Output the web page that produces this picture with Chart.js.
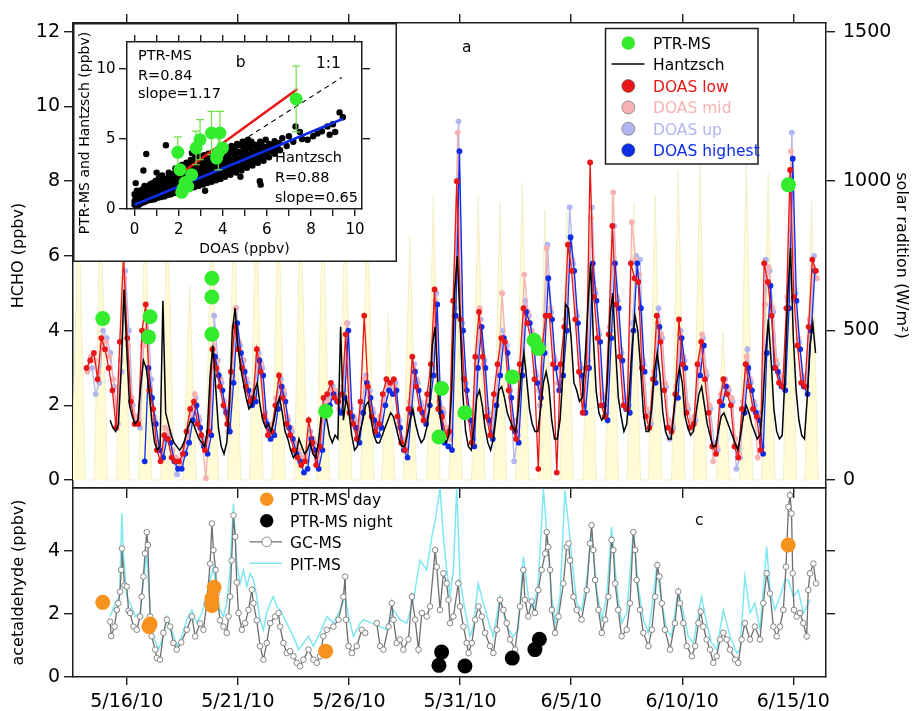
<!DOCTYPE html>
<html>
<head>
<meta charset="utf-8">
<script src="https://cdn.jsdelivr.net/npm/chart.js@4.4.1/dist/chart.umd.min.js"></script>
<style>
html, body { margin: 0; padding: 0; background: #fff; }
#wrap { position: relative; width: 919px; height: 711px; overflow: hidden; background: #fff; }
canvas { position: absolute; }
#cBottom { left: 0; top: 466px; z-index: 1; }
#cTop { left: 0; top: 0; z-index: 2; }
#cInset { left: 73px; top: 23px; z-index: 3; }
</style>
</head>
<body>
<div id="wrap">
<canvas id="cBottom" width="919" height="245"></canvas>
<canvas id="cTop" width="919" height="520"></canvas>
<canvas id="cInset" width="324" height="239"></canvas>
</div>
<script>
// time axis = day of May 2010 (UTC), 32 = June 1
var dateTicks = [16, 21, 26, 31, 36, 41, 46];
var dateLabels = ['5/16/10', '5/21/10', '5/26/10', '5/31/10', '6/5/10', '6/10/10', '6/15/10'];

// solar radiation: midday time and peak (W/m2) for each day
var solarNoon = [13.83, 14.83, 15.83, 16.83, 17.83, 18.83, 19.83, 20.83, 21.83, 22.83, 23.83, 24.83, 25.83, 26.83, 27.77, 28.74,
  29.8, 30.8, 31.82, 32.8, 33.8, 34.82, 35.8, 36.83, 37.83, 38.82, 39.78, 40.82, 41.8, 42.83, 43.88, 44.87, 45.85, 46.82];
var solarPeak = [950, 950, 950, 950, 950, 650, 950, 950, 950, 950, 950, 950, 950, 950, 557, 815,
  950, 950, 948, 931, 992, 904, 900, 950, 950, 925, 954, 1037, 1054, 500, 1054, 1025, 950, 937];

// Hantzsch HCHO, every 3 h from 5/15 06:00
var hantzschStart = 15.25, hantzschStep = 0.125;
var hantzschValues = [
  1.6, 1.4, 1.3, 1.5, 3.0, 5.1,
  3.5, 2.0, 1.7, 1.5, 1.6, 2.5, 3.2, 3.0,
  2.4, 1.6, 1.0, 0.8, 0.9, 4.8, 1.8, 1.5,
  1.2, 1.0, 0.9, 0.8, 0.9, 1.1, 1.4, 1.6,
  1.5, 1.3, 1.1, 1.0, 0.9, 1.3, 2.8, 3.6,
  2.5, 1.4, 0.9, 0.7, 1.0, 2.0, 4.0, 4.6,
  3.6, 3.0, 2.6, 2.2, 1.9, 2.0, 2.4, 2.6,
  2.0, 1.6, 1.4, 1.5, 1.3, 1.6, 2.0, 2.2,
  1.8, 1.3, 1.1, 0.8, 0.6, 0.7, 1.1, 0.9,
  0.7, 0.8, 1.0, 0.7, 0.6, 1.0, 1.7, 1.9,
  1.6, 1.2, 1.0, 1.2, 1.1, 4.1, 1.6, 2.2,
  1.8, 1.2, 0.8, 0.9, 1.3, 1.6, 2.0, 2.1,
  1.6, 1.2, 1.0, 1.0, 1.2, 1.4, 1.6, 1.8,
  1.7, 1.4, 1.1, 0.9, 0.9, 1.2, 1.6, 1.9,
  1.5, 1.2, 1.0, 1.1, 1.4, 1.9, 3.6, 4.1,
  2.6, 1.6, 1.1, 1.0, 1.2, 2.4, 5.0, 6.0,
  4.3, 2.3, 1.3, 0.9, 0.8, 1.4, 2.2, 2.4,
  2.0, 1.4, 1.0, 0.8, 1.1, 1.7, 2.4, 2.5,
  2.2, 1.8, 1.6, 1.4, 1.3, 1.9, 2.8, 3.4,
  2.7, 1.9, 1.5, 1.3, 1.3, 1.9, 2.6, 2.9,
  2.5, 1.6, 1.1, 1.1, 1.6, 2.8, 4.7, 4.6,
  3.8, 2.6, 2.4, 2.1, 2.2, 3.2, 4.6, 5.8,
  3.8, 2.4, 1.8, 1.6, 1.7, 2.6, 4.4, 5.0,
  3.5, 2.2, 1.7, 1.3, 1.5, 2.4, 3.6, 4.4,
  4.0, 3.0, 1.8, 1.3, 1.3, 1.9, 2.9, 3.4,
  2.8, 1.8, 1.3, 1.1, 1.1, 1.8, 2.6, 3.0,
  2.6, 1.7, 1.4, 1.2, 1.3, 1.8, 2.3, 2.5,
  2.0, 1.5, 1.2, 0.9, 0.9, 1.3, 1.7, 1.8,
  1.6, 1.4, 1.2, 1.0, 0.8, 1.2, 1.7, 2.0,
  1.8, 1.5, 1.3, 1.1, 1.2, 2.0, 3.4, 4.3,
  3.2, 1.9, 1.3, 1.1, 1.2, 2.8, 5.0, 6.2,
  3.8, 2.4, 1.6, 1.2, 1.1, 2.2, 3.6, 4.2,
  3.4
];

// DOAS HCHO, six values per day from 5/14 (each height has its own scan offset)
var doasFirstDay = 14;
var doasLow = [
  null, 3.0, 3.2, 3.4, 2.7, 3.8,   3.5, 3.0, 2.4, 1.4, 3.7, 6.0,   3.8, 2.1, 1.5, 1.5, 4.0, 4.7,
  2.4, 1.9, 0.8, 0.5, 1.2, 1.1,   0.6, 0.5, 0.5, 0.7, 1.3, 1.9,   2.1, 1.5, 1.2, 0.8, 1.3, 3.5,
  3.0, 2.5, 2.0, 1.5, 2.9, 4.1,   3.5, 3.0, 2.5, 2.1, 2.2, 3.5,   2.9, 1.7, 1.2, 1.3, 2.0, 2.8,
  2.2, 1.5, 1.2, 0.8, 0.6, 0.4,   0.5, 1.6, 1.0, 0.4, 0.9, 2.2,   2.3, 2.6, 2.2, 2.1, 2.3, 3.9,
  1.8, 1.5, 1.1, 2.1, 4.4, 2.5,   1.7, 1.3, 1.5, 2.3, 2.7, 2.6,   2.7, 1.7, 1.0, 0.8, 1.9, 3.3,
  2.5, 1.9, 1.6, 2.3, 3.1, 5.1,   1.9, 1.7, 1.2, 1.3, 4.8, 8.0,   4.3, 2.7, 1.8, 1.0, 3.3, 4.5,
  3.3, 1.7, 1.2, 2.3, 3.1, 3.8,   3.7, 2.4, 1.4, 1.1, 3.1, 4.6,   4.2, 3.8, 2.7, 0.3, 3.5, 4.4,
  4.4, 3.1, 0.2, 3.1, 4.1, 6.3,   5.6, 4.3, 2.9, 1.8, 3.0, 8.5,   4.9, 3.8, 2.0, 1.7, 3.9, 6.8,
  4.7, 3.3, 2.0, 1.9, 5.8, 5.4,   5.3, 3.0, 1.7, 1.4, 2.7, 4.4,   3.7, 2.4, 1.4, 1.3, 2.3, 4.3,
  3.1, 1.8, 1.4, 1.5, 3.1, 3.7,   2.7, 1.8, 0.9, 0.7, 2.1, 2.7,   2.3, 2.0, 0.9, 0.6, 1.9, 3.1,
  2.5, 1.9, 1.7, 0.8, 5.8, 5.3,   4.4, 3.0, 2.6, 2.5, 4.6, 8.3,   4.9, 3.6, 2.6, 2.5, 4.1, 5.9,
  5.6
];
var doasMid = [
  null, 2.9, 3.3, 3.2, 2.9, 3.6,   3.7, 3.3, 2.7, 1.5, 3.2, 5.4,   3.6, 2.2, 1.7, 1.6, 3.6, 4.3,
  2.5, 1.7, 1.0, 0.8, 1.4, 1.3,   0.8, 0.6, 0.4, 0.9, 1.1, 1.7,   2.3, 1.7, 1.0, 0.05, 1.5, 3.9,
  3.2, 2.7, 2.1, 1.3, 2.7, 4.6,   3.7, 3.2, 2.7, 2.3, 2.4, 3.3,   3.1, 1.8, 1.4, 1.5, 2.2, 2.6,
  2.4, 1.7, 1.4, 1.0, 0.8, 0.6,   0.6, 1.2, 1.1, 0.6, 1.1, 2.0,   2.1, 2.4, 2.4, 1.9, 2.5, 4.2,
  2.0, 1.7, 1.3, 1.9, 2.7, 2.3,   1.9, 1.5, 1.7, 2.1, 2.5, 2.4,   2.5, 1.5, 1.1, 1.0, 2.1, 3.0,
  2.7, 2.1, 1.8, 2.1, 2.9, 4.8,   2.1, 1.9, 1.4, 1.1, 4.4, 9.3,   4.1, 2.5, 1.9, 1.2, 3.1, 4.6,
  3.1, 1.9, 1.4, 2.1, 2.9, 5.0,   3.5, 2.5, 1.6, 1.3, 2.9, 5.5,   4.5, 4.0, 2.9, 2.4, 3.7, 6.2,
  4.6, 3.3, 2.6, 2.9, 4.3, 6.3,   5.9, 4.5, 3.1, 2.1, 3.3, 7.0,   5.1, 4.0, 2.3, 1.9, 4.1, 7.7,
  4.9, 3.5, 2.2, 2.1, 6.9, 5.9,   5.5, 3.2, 1.9, 1.6, 2.9, 4.2,   3.9, 2.6, 1.6, 1.5, 2.5, 3.9,
  3.3, 2.0, 1.6, 1.7, 2.9, 3.9,   2.9, 2.0, 0.5, 0.9, 2.3, 2.6,   2.5, 2.2, 1.1, 0.7, 2.1, 3.3,
  2.7, 2.1, 0.6, 1.0, 4.7, 5.7,   4.6, 3.2, 2.8, 2.7, 4.9, 8.8,   5.1, 3.8, 2.8, 2.6, 4.3, 5.7,
  5.4
];
var doasUp = [
  null, null, 3.0, 2.3, 2.6, 4.0,   3.8, 3.4, 2.5, 1.5, 2.9, 5.6,   4.0, 2.0, 1.6, 1.4, 3.7, 4.4,
  2.7, 1.6, 0.9, 0.7, 1.2, 1.2,   0.6, 0.15, 0.4, 0.8, 1.2, 1.8,  2.2, 1.6, 1.1, 0.9, 1.4, 4.4,
  3.2, 2.6, 1.9, 1.4, 2.8, 4.6,   3.6, 3.2, 2.6, 2.2, 2.3, 3.4,   3.0, 1.6, 1.3, 1.3, 2.1, 2.7,
  2.3, 1.6, 1.3, 0.9, 0.7, 0.5,   0.5, 1.3, 1.0, 0.5, 1.0, 2.1,   2.2, 2.5, 2.3, 2.0, 2.4, 4.2,
  1.9, 1.6, 1.2, 2.0, 2.8, 2.4,   1.8, 1.4, 1.6, 2.2, 2.6, 2.5,   2.6, 1.6, 1.0, 0.9, 2.0, 3.1,
  2.6, 2.0, 1.7, 2.2, 3.0, 5.0,   2.0, 1.8, 1.3, 1.2, 4.6, 9.6,   4.2, 2.6, 1.8, 1.1, 3.2, 4.3,
  3.2, 1.8, 1.3, 2.2, 3.0, 4.0,   3.6, 2.4, 0.5, 1.2, 3.0, 4.8,   4.4, 3.9, 2.8, 2.0, 3.6, 6.3,
  4.5, 3.2, 2.4, 3.0, 4.2, 7.3,   5.8, 4.4, 3.0, 2.0, 3.2, 7.3,   5.0, 3.9, 2.2, 1.8, 4.0, 6.8,
  4.8, 3.4, 2.1, 2.0, 4.2, 6.0,   5.9, 3.1, 1.8, 1.5, 2.8, 4.6,   3.8, 2.5, 1.1, 1.4, 2.4, 4.0,
  3.2, 1.9, 1.5, 1.6, 3.0, 3.8,   2.8, 1.9, 1.0, 0.8, 2.2, 2.7,   2.4, 2.1, 0.3, 0.6, 2.0, 3.5,
  2.6, 2.0, 1.8, 0.9, 5.9, 5.6,   4.5, 3.1, 2.7, 2.6, 4.8, 9.3,   5.0, 3.7, 2.7, 2.5, 4.2, 6.0,
  null
];
var doasHighest = [
  null, null, null, null, null, null,   null, null, null, null, null, null,   null, null, null, null, 0.5, 3.0,
  2.2, 1.5, 0.8, 0.6, 1.1, 1.0,   0.5, 0.3, 0.3, 0.7, 1.0, 1.6,   2.0, 1.4, 0.9, 0.7, 1.2, 3.3,
  2.8, 2.4, 1.8, 1.3, 2.6, 4.2,   3.4, 2.9, 2.4, 2.0, 2.1, 3.2,   2.8, 1.5, 1.1, 1.2, 1.9, 2.5,
  2.1, 1.4, 1.1, 0.7, 0.5, 0.2,   0.3, 1.1, 0.8, 0.3, 0.8, 1.9,   2.0, 2.3, 2.1, 1.8, 2.2, 4.0,
  1.7, 1.4, 1.0, 1.8, 2.6, 2.2,   1.6, 1.2, 1.4, 2.0, 2.4, 2.3,   2.4, 1.4, 0.8, 0.6, 1.8, 2.9,
  2.4, 1.8, 1.5, 2.0, 2.8, 4.7,   1.8, 1.0, 0.9, 0.8, 4.4, 8.8,   4.0, 2.4, 1.6, 0.9, 3.0, 4.1,
  3.0, 1.6, 1.1, 2.0, 2.8, 3.8,   3.4, 2.2, 1.3, 1.0, 2.8, 4.5,   4.2, 3.7, 2.6, 2.2, 3.4, 5.4,
  4.3, 3.0, 2.4, 2.8, 4.0, 6.5,   5.6, 4.2, 2.8, 1.8, 3.0, 5.8,   4.8, 3.7, 2.0, 1.6, 3.8, 5.8,
  4.6, 3.2, 1.9, 1.8, 4.0, 5.8,   4.6, 2.9, null, null, 2.6, 4.1,   null, null, null, null, 2.2, 3.8,
  3.0, null, null, null, 2.8, 3.6,   null, null, null, null, 2.0, 2.5,   null, null, null, null, 1.8, 3.0,
  2.4, 1.8, 1.6, 0.7, 3.4, 5.2,   3.0, 2.9, 2.5, 2.4, 4.6, 8.6,   4.8, 3.5, 2.5, 2.3, 4.0, 5.6
];

// PTR-MS HCHO (panel a)
var ptrTimes = [14.92, 16.98, 17.05, 19.83, 19.83, 19.83, 24.95, 30.05, 30.17, 31.22, 33.35, 34.33, 34.52, 45.78];
var ptrValues = [4.32, 3.83, 4.37, 5.4, 4.9, 3.9, 1.84, 1.15, 2.45, 1.8, 2.76, 3.74, 3.52, 7.9];

// inset b: Hantzsch vs DOAS scatter [DOAS, Hantzsch]
var scatterPairs = [
  [0.0,0.3],[0.0,0.55],[0.05,0.8],[0.0,1.05],[0.1,1.3],[0.1,0.4],[0.15,0.65],[0.1,0.9],[0.2,1.15],
  [0.2,0.3],[0.25,0.5],[0.3,0.75],[0.2,1.0],[0.3,1.35],[0.35,0.45],[0.4,0.65],[0.35,0.95],[0.45,1.2],
  [0.45,0.5],[0.5,0.75],[0.55,1.0],[0.5,1.45],[0.45,1.65],[0.6,0.6],[0.65,0.85],[0.6,1.1],[0.7,1.35],[0.65,1.6],
  [0.75,0.65],[0.8,0.9],[0.75,1.2],[0.85,1.5],[0.8,1.85],[0.9,0.7],[0.95,1.0],[0.9,1.3],[1.0,1.6],[0.95,2.0],
  [1.05,0.8],[1.1,1.05],[1.0,1.35],[1.15,1.75],[1.1,2.2],[1.2,0.85],[1.25,1.15],[1.2,1.5],[1.3,1.9],[1.25,2.4],
  [1.35,0.9],[1.4,1.25],[1.35,1.6],[1.45,2.05],[1.5,1.0],[1.55,1.35],[1.5,1.75],[1.6,2.2],[1.55,2.6],
  [1.65,1.05],[1.7,1.45],[1.65,1.85],[1.75,2.3],[1.8,1.15],[1.85,1.55],[1.8,2.0],[1.9,2.45],[1.85,2.9],
  [1.95,1.2],[2.0,1.65],[1.95,2.1],[2.05,2.6],[2.1,1.3],[2.15,1.75],[2.1,2.25],[2.2,2.75],[2.15,3.15],
  [2.3,1.4],[2.35,1.85],[2.3,2.35],[2.4,2.85],[2.35,3.3],[2.5,1.45],[2.55,1.95],[2.5,2.5],[2.6,3.0],[2.55,3.5],
  [2.7,1.55],[2.75,2.05],[2.7,2.6],[2.8,3.1],[2.75,3.65],[2.9,1.65],[2.95,2.15],[2.9,2.7],[3.0,3.25],[2.95,3.75],
  [3.1,1.75],[3.15,2.3],[3.1,2.85],[3.2,3.35],[3.15,3.85],[3.3,1.85],[3.35,2.4],[3.3,2.95],[3.4,3.45],[3.35,3.95],
  [3.5,1.95],[3.55,2.5],[3.5,3.05],[3.6,3.55],[3.55,4.05],[3.7,2.05],[3.75,2.6],[3.7,3.15],[3.8,3.7],[3.75,4.2],
  [3.9,2.15],[3.95,2.7],[3.9,3.25],[4.0,3.8],[3.95,4.3],[4.1,2.3],[4.15,2.85],[4.1,3.4],[4.2,3.9],[4.15,4.4],
  [4.35,2.45],[4.4,3.0],[4.35,3.5],[4.45,4.0],[4.4,4.5],[4.6,2.6],[4.65,3.1],[4.6,3.65],[4.7,4.1],[4.65,4.65],
  [4.85,2.75],[4.9,3.3],[4.85,3.8],[4.95,4.3],[4.9,4.8],[5.1,2.95],[5.15,3.45],[5.1,3.95],[5.2,4.45],[5.15,4.95],
  [5.35,3.1],[5.4,3.6],[5.35,4.1],[5.45,4.6],[5.6,3.3],[5.65,3.8],[5.6,4.3],[5.7,4.8],
  [5.85,3.45],[5.9,3.95],[5.85,4.45],[5.95,4.95],[6.1,3.7],[6.15,4.2],[6.1,4.65],[6.35,3.95],[6.4,4.4],[6.35,4.85],
  [6.6,4.2],[6.7,5.05],[6.9,4.5],[7.0,5.2],[7.2,4.8],[7.3,5.9],[7.5,5.5],[7.6,5.0],[7.85,4.95],[8.1,5.2],
  [8.3,5.4],[8.5,5.55],[8.75,5.9],[8.85,5.3],[9.0,6.05],[9.1,5.5],[9.3,6.9],[9.45,6.55],
  [0.05,1.85],[0.4,2.75],[0.53,3.93],[1.42,4.55],[5.68,1.98],[5.72,1.74],[2.6,4.0],[3.2,1.3],[1.0,2.6],[4.8,2.3],
  [0.05,0.45],[0.1,0.7],[0.05,0.95],[0.15,1.2],[0.25,0.4],[0.3,0.6],[0.25,0.85],[0.35,1.1],
  [0.45,0.6],[0.5,0.9],[0.4,1.45],[0.55,1.25],[0.65,0.7],[0.7,0.95],[0.6,1.3],[0.75,1.5],[0.7,1.75],
  [0.85,0.8],[0.9,1.15],[0.85,1.4],[0.95,1.75],[1.05,0.95],[1.0,1.2],[1.1,1.5],[1.05,1.9],[1.2,2.0],
  [1.25,1.0],[1.3,1.3],[1.25,1.7],[1.35,2.15],[1.45,1.1],[1.5,1.45],[1.45,1.85],[1.55,2.35],
  [1.65,1.25],[1.7,1.6],[1.65,2.05],[1.75,2.5],[1.85,1.35],[1.9,1.75],[1.85,2.2],[1.95,2.7],
  [2.05,1.45],[2.1,1.9],[2.05,2.35],[2.15,2.9],[2.25,1.55],[2.3,2.05],[2.25,2.55],[2.35,3.05],
  [2.45,1.7],[2.5,2.2],[2.45,2.7],[2.55,3.2],[2.65,1.8],[2.7,2.3],[2.65,2.85],[2.75,3.35],
  [2.85,1.9],[2.9,2.45],[2.85,2.95],[2.95,3.45],[3.05,2.0],[3.1,2.55],[3.05,3.1],[3.15,3.6],
  [3.25,2.1],[3.3,2.65],[3.25,3.2],[3.35,3.7],[3.45,2.2],[3.5,2.75],[3.45,3.3],[3.55,3.8],
  [3.65,2.3],[3.7,2.85],[3.65,3.4],[3.75,3.95],[3.85,2.4],[3.9,2.95],[3.85,3.5],[3.95,4.05],
  [4.05,2.55],[4.1,3.1],[4.05,3.65],[4.15,4.15],[4.25,2.65],[4.3,3.2],[4.25,3.75],[4.35,4.25],
  [4.5,2.8],[4.55,3.35],[4.5,3.9],[4.55,4.35],[4.75,2.95],[4.8,3.5],[4.75,4.05],[4.8,4.55],
  [5.0,3.1],[5.05,3.7],[5.0,4.2],[5.05,4.65],[5.25,3.3],[5.3,3.85],[5.25,4.35],[5.3,4.8],
  [5.5,3.45],[5.55,4.0],[5.5,4.5],[5.75,3.6],[5.8,4.15],[5.75,4.65],
  [6.0,3.8],[6.05,4.35],[6.25,4.1],[6.3,4.6],[6.5,4.3],[6.55,4.7]
];
// inset b: PTR-MS vs DOAS [DOAS, PTR-MS, error]
var ptrInset = [
  [1.96,4.05,1.1],[2.06,2.81,0],[2.14,1.19,0],[2.29,1.9,0],[2.41,1.62,0],[2.59,2.45,0],[2.2,1.45,0],
  [2.79,4.36,1.2],[2.97,4.95,1.43],[3.49,5.43,1.55],[3.87,5.43,1.55],[3.72,3.64,0],[3.8,4.0,1.2],[3.99,4.36,0],
  [7.33,7.86,2.35]
];
var fitPtr = [[1.96, 2.38], [7.39, 8.57]];
var fitHantzsch = [[0, 0.3], [9.46, 6.45]];
var oneToOne = [[0, 0], [9.4, 9.4]];

// acetaldehyde (panel c)
var gcms = [
  [15.25,1.76],[15.3,1.3],[15.45,1.6],[15.55,2.13],[15.62,2.34],[15.7,2.71],[15.75,3.4],[15.78,4.08],[15.9,2.9],[16.0,2.87],
  [16.08,2.1],[16.15,2.03],[16.3,1.6],[16.45,1.5],[16.6,1.92],[16.67,2.55],[16.75,3.19],[16.82,3.92],[16.9,4.6],[16.95,4.19],
  [17.05,1.92],[17.12,1.29],[17.28,0.87],[17.35,0.6],[17.5,0.55],[17.65,1.4],[17.8,1.82],[17.95,1.6],[18.1,1.08],[18.25,0.87],
  [18.45,1.1],[18.7,1.5],[18.93,1.92],[19.08,1.29],[19.3,1.7],[19.45,1.5],[19.6,2.34],[19.75,3.6],[19.83,4.87],[19.9,4.03],
  [20.0,3.4],[20.05,2.65],[20.2,1.8],[20.35,1.6],[20.5,1.4],[20.58,1.92],[20.65,2.55],[20.72,3.7],[20.8,5.13],[20.88,4.45],
  [20.95,3.0],[21.03,2.03],[21.18,1.5],[21.33,1.71],[21.48,2.13],[21.63,2.77],[21.7,2.34],[21.85,1.8],[22.0,0.98],[22.15,0.55],
  [22.3,1.08],[22.45,1.71],[22.68,1.92],[22.83,2.03],[22.9,1.6],[23.05,1.08],[23.2,0.76],[23.35,0.82],[23.5,0.66],[23.65,0.45],
  [23.8,0.34],[23.95,0.55],[24.18,0.87],[24.4,0.55],[24.55,0.45],[24.7,0.66],[24.85,1.29],[25.0,1.5],[25.3,1.6],[25.53,1.82],
  [25.75,2.55],[25.83,3.19],[25.87,1.82],[25.98,0.98],[26.13,0.76],[26.35,0.98],[26.58,1.5],[26.73,1.4],[27.0,null],[27.25,1.71],
  [27.4,0.98],[27.55,0.87],[27.78,1.6],[27.93,2.34],[28.0,1.82],[28.15,1.08],[28.3,1.19],[28.45,0.87],[28.68,1.19],[28.83,2.55],
  [28.98,1.82],[29.13,0.87],[29.28,2.03],[29.5,1.92],[29.65,2.24],[29.88,4.03],[29.95,3.5],[30.1,2.13],[30.25,3.29],[30.4,2.97],
  [30.48,2.45],[30.55,1.71],[30.7,1.92],[30.92,2.97],[31.0,2.24],[31.15,1.6],[31.3,1.08],[31.38,0.76],[31.53,1.08],[31.68,1.82],
  [31.83,2.24],[31.98,1.92],[32.13,1.4],[32.35,0.98],[32.5,0.76],[32.65,1.5],[32.8,2.45],[32.95,2.13],[33.1,1.71],[33.25,1.19],
  [33.48,0.87],[33.7,2.24],[33.85,3.4],[33.92,2.45],[34.07,1.92],[34.22,2.4],[34.37,2.03],[34.52,2.76],[34.67,3.4],[34.83,3.92],
  [34.9,4.6],[34.97,4.13],[35.05,3.4],[35.13,2.13],[35.28,1.4],[35.43,1.92],[35.65,2.97],[35.8,4.13],[35.88,4.24],[35.95,3.7],
  [36.1,2.55],[36.25,2.13],[36.47,1.82],[36.7,2.76],[36.85,4.24],[36.92,4.82],[37.0,4.03],[37.08,3.08],[37.23,2.13],[37.38,1.4],
  [37.53,1.82],[37.67,2.55],[37.82,4.35],[37.9,4.03],[37.98,2.97],[38.12,2.13],[38.27,1.29],[38.5,1.5],[38.65,2.34],[38.8,4.6],
  [38.88,4.03],[38.95,3.08],[39.1,2.13],[39.25,1.4],[39.48,0.98],[39.63,1.5],[39.78,2.55],[39.88,3.55],[39.97,3.19],[40.08,2.34],
  [40.22,1.5],[40.45,0.87],[40.67,1.71],[40.82,2.71],[40.9,2.34],[41.05,1.71],[41.2,0.98],[41.43,0.66],[41.58,0.98],[41.73,1.71],
  [41.83,2.08],[41.95,1.6],[42.1,1.19],[42.25,0.87],[42.4,0.45],[42.55,0.66],[42.7,1.19],[42.85,1.4],[43.0,1.19],[43.15,0.87],
  [43.38,0.55],[43.52,0.45],[43.67,1.19],[43.82,1.71],[44.05,1.19],[44.27,1.6],[44.5,1.19],[44.65,2.34],[44.8,3.29],[44.95,2.65],
  [45.1,1.6],[45.25,1.29],[45.4,1.6],[45.55,2.13],[45.67,3.5],[45.78,5.4],[45.85,5.77],[45.92,5.19],[45.97,3.29],[46.03,2.13],
  [46.15,1.92],[46.3,2.03],[46.45,1.71],[46.6,1.29],[46.67,2.76],[46.75,3.29],[46.9,3.6],[47.02,2.97]
];
var pitms = [
  [15.25,1.92],[15.48,2.34],[15.67,2.55],[15.78,5.19],[15.85,3.92],[16.0,2.55],[16.15,2.34],[16.38,1.92],[16.6,2.03],[16.75,3.08],
  [16.9,3.92],[17.05,2.13],[17.2,1.29],[17.43,0.87],[17.65,1.29],[17.8,1.92],[18.03,1.5],[18.25,0.98],[18.48,1.29],[18.7,1.82],
  [18.93,2.13],[19.15,1.71],[19.38,2.03],[19.6,2.55],[19.75,3.08],[19.9,3.5],[20.05,2.66],[20.2,2.13],[20.35,1.92],[20.5,2.34],
  [20.65,3.4],[20.8,5.5],[20.95,3.6],[21.1,2.97],[21.25,3.4],[21.4,2.87],[21.55,3.29],[21.7,3.08],[21.85,2.55],[22.0,1.82],
  [22.15,1.5],[22.3,2.03],[22.45,2.34],[22.6,2.55],[22.75,2.24],[22.9,2.13],[23.2,1.71],[23.5,1.29],[23.73,0.87],[23.95,1.08],
  [24.18,1.29],[24.4,0.98],[24.7,1.4],[25.0,1.92],[25.3,1.71],[25.6,2.13],[25.83,2.55],[25.98,1.92],[26.2,1.29],[26.5,1.71],
  [26.65,1.82],[27.4,1.6],[27.7,1.5],[28.0,2.13],[28.3,1.82],[28.6,1.71],[28.9,2.45],[29.2,3.71],[29.5,3.4],[29.73,4.45],
  [29.88,4.97],[30.1,6.0],[30.25,4.45],[30.4,3.4],[30.55,2.55],[30.7,3.4],[30.85,6.0],[31.0,3.08],[31.22,2.13],[31.45,1.29],
  [31.6,1.6],[31.82,2.97],[32.05,2.34],[32.35,1.6],[32.5,1.29],[32.8,2.55],[33.1,1.6],[33.4,1.29],[33.62,1.5],[33.85,3.82],
  [34.07,2.55],[34.3,2.13],[34.52,2.97],[34.75,5.98],[34.9,4.66],[35.12,2.55],[35.28,1.71],[35.5,2.55],[35.72,5.92],[35.88,4.87],
  [36.02,3.82],[36.25,2.34],[36.47,2.13],[36.7,3.08],[36.92,4.56],[37.15,2.76],[37.38,1.82],[37.6,2.55],[37.82,4.77],[38.05,2.87],
  [38.27,1.71],[38.5,2.03],[38.8,4.66],[39.02,2.87],[39.25,1.82],[39.48,1.4],[39.7,2.55],[39.85,3.5],[40.08,2.34],[40.3,1.5],
  [40.52,1.29],[40.82,2.76],[41.05,2.03],[41.27,1.29],[41.5,1.08],[41.87,2.55],[42.1,1.71],[42.32,1.08],[42.55,0.87],[42.85,2.13],
  [43.15,1.29],[43.45,0.76],[43.6,0.87],[43.82,3.19],[44.05,2.03],[44.27,2.34],[44.5,1.5],[44.8,4.13],[44.95,2.76],[45.17,2.13],
  [45.4,2.55],[45.62,3.08],[45.77,3.08],[46.0,2.55],[46.22,2.76],[46.45,2.03],[46.67,2.34],[46.75,2.45]
];
var ptrDayTimes = [14.92, 17.0, 17.05, 19.83, 19.83, 19.93, 24.95, 45.77];
var ptrDayValues = [2.37, 1.6, 1.68, 2.27, 2.5, 2.85, 0.82, 4.19];
var ptrNightTimes = [30.05, 30.17, 31.22, 33.35, 34.37, 34.57];
var ptrNightValues = [0.37, 0.79, 0.35, 0.6, 0.87, 1.2];

var XMIN = 13.58, XMAX = 47.47;
var GREEN = 'rgb(52,236,46)', RED = 'rgb(232,22,22)', PINK = 'rgb(246,178,178)';
var LBLUE = 'rgb(178,182,238)', BLUE = 'rgb(12,44,232)', ORANGE = 'rgb(246,146,30)';
var CYAN = 'rgb(126,232,240)', FRAME = '#1e1e1e', FONT = '"DejaVu Sans", sans-serif';

Chart.defaults.font.family = FONT;
Chart.defaults.color = '#000';

function gridPoints(start, step, values) {
  return values.map(function (v, i) { return {x: start + i * step, y: v}; });
}
function slotPoints(values, offset) {
  return values.map(function (v, i) {
    return {x: doasFirstDay + Math.floor(i / 6) + (i % 6) / 6 + offset, y: v};
  });
}
function zipPoints(xs, ys) { return xs.map(function (x, i) { return {x: x, y: ys[i]}; }); }
function pairPoints(pairs) { return pairs.map(function (p) { return {x: p[0], y: p[1]}; }); }

var solarPts = [];
solarNoon.forEach(function (t, i) {
  solarPts.push({x: t - 0.3, y: 0}, {x: t, y: solarPeak[i]}, {x: t + 0.3, y: 0});
});

function num(v) { return String(v); }
function dateLabel(v) { var i = dateTicks.indexOf(v); return i >= 0 ? dateLabels[i] : ''; }

// one framed axis with fixed size and fixed tick list
function edge(pos, min, max, size, tickLen, tickList, o) {
  o = o || {};
  var horiz = pos === 'top' || pos === 'bottom';
  return {
    type: 'linear', position: pos, min: min, max: max,
    afterFit: function (s) { if (horiz) { s.height = size; } else { s.width = size; } },
    afterBuildTicks: function (s) { s.ticks = tickList.map(function (v) { return {value: v}; }); },
    grid: {display: tickLen > 0, drawOnChartArea: false, tickLength: tickLen, color: FRAME, tickColor: FRAME, lineWidth: 1.4, tickWidth: 1.4},
    border: {display: true, color: FRAME, width: 1.5},
    ticks: {display: !!o.label, autoSkip: false, maxRotation: 0, padding: o.pad || 3,
      font: {size: o.size || 19}, color: '#000', callback: o.label || function () { return ''; }},
    title: o.title ? {display: true, text: o.title, color: '#000', font: {size: o.titleSize || 16}, padding: o.titlePad} : {display: false}
  };
}

function doasSet(label, values, offset, color, order) {
  return {label: label, data: slotPoints(values, offset), borderColor: color, backgroundColor: color,
    pointBackgroundColor: color, pointBorderColor: color, pointBorderWidth: 0, pointRadius: 2.9,
    borderWidth: 1.3, tension: 0, spanGaps: false, order: order};
}

function text(ctx, s, x, y, size, color) {
  ctx.font = size + 'px ' + FONT;
  ctx.fillStyle = color || '#000';
  ctx.textAlign = 'left';
  ctx.textBaseline = 'alphabetic';
  ctx.fillText(s, x, y);
}
function dot(ctx, x, y, r, fill, stroke) {
  ctx.beginPath();
  ctx.arc(x, y, r, 0, Math.PI * 2);
  ctx.fillStyle = fill;
  ctx.fill();
  if (stroke) { ctx.lineWidth = 0.8; ctx.strokeStyle = stroke; ctx.stroke(); }
}

var legendA = {
  id: 'legendA',
  afterDraw: function (chart) {
    var ctx = chart.ctx;
    ctx.save();
    ctx.fillStyle = '#fff';
    ctx.fillRect(605.5, 28.5, 152.5, 135.5);
    ctx.strokeStyle = FRAME;
    ctx.lineWidth = 1.5;
    ctx.strokeRect(605.5, 28.5, 152.5, 135.5);
    dot(ctx, 628.3, 43, 6.7, GREEN);
    text(ctx, 'PTR-MS', 653, 49, 15.5);
    ctx.beginPath(); ctx.moveTo(611.5, 64); ctx.lineTo(644.5, 64);
    ctx.strokeStyle = '#000'; ctx.lineWidth = 1.4; ctx.stroke();
    text(ctx, 'Hantzsch', 653, 70.4, 15.5);
    dot(ctx, 628.3, 86, 6.5, RED, 'rgba(90,90,90,0.7)');
    text(ctx, 'DOAS low', 653, 91.8, 15.5, RED);
    dot(ctx, 628.3, 107.4, 6.5, PINK, 'rgba(90,90,90,0.7)');
    text(ctx, 'DOAS mid', 653, 113.2, 15.5, PINK);
    dot(ctx, 628.3, 128.8, 6.5, LBLUE, 'rgba(90,90,90,0.7)');
    text(ctx, 'DOAS up', 653, 134.6, 15.5, LBLUE);
    dot(ctx, 628.3, 150.2, 6.5, BLUE, 'rgba(60,60,60,0.7)');
    text(ctx, 'DOAS highest', 653, 156, 15.5, BLUE);
    text(ctx, 'a', 462, 52, 15.5);
    ctx.restore();
  }
};

var legendC = {
  id: 'legendC',
  afterDraw: function (chart) {
    var ctx = chart.ctx;
    ctx.save();
    dot(ctx, 266.7, 33.3, 6.7, ORANGE);
    text(ctx, 'PTR-MS day', 290, 39, 15.5);
    dot(ctx, 266.7, 54.7, 6.7, '#000');
    text(ctx, 'PTR-MS night', 290, 60.5, 15.5);
    ctx.beginPath(); ctx.moveTo(249.5, 75.8); ctx.lineTo(282, 75.8);
    ctx.strokeStyle = 'rgb(110,110,110)'; ctx.lineWidth = 1.3; ctx.stroke();
    dot(ctx, 266.7, 75.8, 4.8, '#fff', 'rgb(110,110,110)');
    text(ctx, 'GC-MS', 290, 82, 15.5);
    ctx.beginPath(); ctx.moveTo(249.5, 97.3); ctx.lineTo(282, 97.3);
    ctx.strokeStyle = CYAN; ctx.lineWidth = 1.4; ctx.stroke();
    text(ctx, 'PIT-MS', 290, 103.5, 15.5);
    text(ctx, 'c', 695, 59, 15.5);
    ctx.restore();
  }
};

var insetDeco = {
  id: 'insetDeco',
  beforeDraw: function (chart) {
    var ctx = chart.ctx;
    ctx.save();
    ctx.fillStyle = '#fff';
    ctx.fillRect(0, 0, chart.width, chart.height);
    ctx.restore();
  },
  beforeDatasetDraw: function (chart, args) {
    if (args.meta.label !== 'PTR-MS') return;
    var ctx = chart.ctx, xs = chart.scales.x, ys = chart.scales.y;
    ctx.save();
    ctx.strokeStyle = 'rgb(110,226,70)';
    ctx.lineWidth = 1.2;
    ptrInset.forEach(function (p) {
      if (!p[2]) return;
      var px = xs.getPixelForValue(p[0]);
      var top = ys.getPixelForValue(p[1] + p[2]), bot = ys.getPixelForValue(p[1] - p[2]);
      ctx.beginPath();
      ctx.moveTo(px, top); ctx.lineTo(px, bot);
      ctx.moveTo(px - 4, top); ctx.lineTo(px + 4, top);
      ctx.moveTo(px - 4, bot); ctx.lineTo(px + 4, bot);
      ctx.stroke();
    });
    ctx.restore();
  },
  afterDraw: function (chart) {
    var ctx = chart.ctx;
    ctx.save();
    ctx.strokeStyle = FRAME;
    ctx.lineWidth = 1.5;
    ctx.strokeRect(0.75, 0.75, chart.width - 1.5, chart.height - 1.5);
    text(ctx, 'PTR-MS', 65, 37, 14.5);
    text(ctx, 'R=0.84', 65, 56.5, 14.5);
    text(ctx, 'slope=1.17', 65, 75, 14.5);
    text(ctx, 'b', 162.7, 43.7, 15.5);
    text(ctx, '1:1', 243, 45, 15.5);
    text(ctx, 'Hantzsch', 202, 138.7, 14.5);
    text(ctx, 'R=0.88', 202, 158.7, 14.5);
    text(ctx, 'slope=0.65', 202, 178.7, 14.5);
    ctx.translate(12, 110);
    ctx.rotate(-Math.PI / 2);
    ctx.font = '14px ' + FONT;
    ctx.fillStyle = '#000';
    ctx.textAlign = 'center';
    ctx.textBaseline = 'middle';
    ctx.fillText('PTR-MS and Hantzsch (ppbv)', 0, 0);
    ctx.restore();
  }
};

var common = {
  responsive: false, animation: false, devicePixelRatio: 1,
  layout: {padding: 0},
  plugins: {legend: {display: false}, tooltip: {enabled: false}},
  elements: {line: {tension: 0}}
};

// panel a
new Chart(document.getElementById('cTop').getContext('2d'), {
  type: 'line',
  data: {
    datasets: [
      {label: 'PTR-MS', data: zipPoints(ptrTimes, ptrValues), showLine: false, pointRadius: 7.5,
        pointBackgroundColor: GREEN, pointBorderWidth: 0, order: 1},
      {label: 'Hantzsch', data: gridPoints(hantzschStart, hantzschStep, hantzschValues), borderColor: '#000',
        borderWidth: 1.5, pointRadius: 0, order: 2},
      doasSet('DOAS low', doasLow, 0.02, RED, 3),
      doasSet('DOAS highest', doasHighest, 0.14, BLUE, 4),
      doasSet('DOAS mid', doasMid, 0.06, PINK, 5),
      doasSet('DOAS up', doasUp, 0.10, LBLUE, 6),
      {label: 'solar', data: solarPts, yAxisID: 'y2', fill: 'origin', backgroundColor: 'rgb(255,251,212)',
        borderColor: 'rgb(242,239,206)', borderWidth: 1, pointRadius: 0, order: 10}
    ]
  },
  options: Object.assign({}, common, {
    scales: {
      x: edge('bottom', XMIN, XMAX, 32, 10, dateTicks),
      xTop: edge('top', XMIN, XMAX, 23, 9, dateTicks),
      y: edge('left', -0.214, 12.233, 73, 9, [0, 2, 4, 6, 8, 10, 12],
        {label: num, pad: 4, title: 'HCHO (ppbv)', titlePad: {top: 9.4, bottom: 0}}),
      y2: edge('right', -26.8, 1529, 93, 9, [0, 500, 1000, 1500],
        {label: num, pad: 8, title: 'solar radition (W/m\u00b2)', titlePad: {top: 8.4, bottom: 0}})
    }
  }),
  plugins: [legendA]
});

// panel c
new Chart(document.getElementById('cBottom').getContext('2d'), {
  type: 'line',
  data: {
    datasets: [
      {label: 'PTR-MS night', data: zipPoints(ptrNightTimes, ptrNightValues), showLine: false, pointRadius: 7.5,
        pointBackgroundColor: '#000', pointBorderWidth: 0, order: 1},
      {label: 'PTR-MS day', data: zipPoints(ptrDayTimes, ptrDayValues), showLine: false, pointRadius: 7.5,
        pointBackgroundColor: ORANGE, pointBorderWidth: 0, order: 2},
      {label: 'GC-MS', data: pairPoints(gcms), borderColor: 'rgb(110,110,110)', borderWidth: 1.3,
        pointRadius: 2.8, pointBackgroundColor: '#fff', pointBorderColor: 'rgb(120,120,120)', pointBorderWidth: 0.9,
        spanGaps: false, order: 3},
      {label: 'PIT-MS', data: pairPoints(pitms), borderColor: CYAN, borderWidth: 1.5, pointRadius: 0, order: 4}
    ]
  },
  options: Object.assign({}, common, {
    scales: {
      x: edge('bottom', XMIN, XMAX, 34, 8, dateTicks, {label: dateLabel, pad: 6}),
      xTop: edge('top', XMIN, XMAX, 22, 0, []),
      y: edge('left', 0, 6, 73, 9, [0, 2, 4],
        {label: num, pad: 4, title: 'acetaldehyde (ppbv)', titlePad: {top: 9.4, bottom: 0}}),
      y2: edge('right', 0, 6, 93, 9, [2, 4])
    }
  }),
  plugins: [legendC]
});

// inset b
var insetTicks = [0, 1, 2, 3, 4, 5, 6, 7, 8, 9, 10];
new Chart(document.getElementById('cInset').getContext('2d'), {
  type: 'line',
  data: {
    datasets: [
      {label: 'PTR-MS', data: pairPoints(ptrInset), showLine: false, pointRadius: 6.5,
        pointBackgroundColor: GREEN, pointBorderWidth: 0, order: 1},
      {label: 'fit PTR-MS', data: pairPoints(fitPtr), borderColor: RED, borderWidth: 2.6, pointRadius: 0, order: 2},
      {label: 'fit Hantzsch', data: pairPoints(fitHantzsch), borderColor: BLUE, borderWidth: 2.6, pointRadius: 0, order: 3},
      {label: 'Hantzsch', data: pairPoints(scatterPairs), showLine: false, pointRadius: 3.2,
        pointBackgroundColor: '#000', pointBorderWidth: 0, order: 4},
      {label: '1:1', data: pairPoints(oneToOne), borderColor: '#000', borderWidth: 1.1, borderDash: [5, 4],
        pointRadius: 0, order: 5}
    ]
  },
  options: Object.assign({}, common, {
    scales: {
      x: edge('bottom', -0.344, 10.317, 53, 7, insetTicks,
        {label: function (v) { return v % 2 === 0 ? String(v) : ''; }, pad: 5.5, size: 15,
          title: 'DOAS (ppbv)', titleSize: 14, titlePad: {top: 0, bottom: 4.6}}),
      xTop: edge('top', -0.344, 10.317, 19, 7, insetTicks),
      y: edge('left', 0, 11.93, 54, 8, [0, 5, 10], {label: num, pad: 3.5, size: 15}),
      y2: edge('right', 0, 11.93, 35, 8, [5, 10])
    }
  }),
  plugins: [insetDeco]
});
</script>
</body>
</html>
